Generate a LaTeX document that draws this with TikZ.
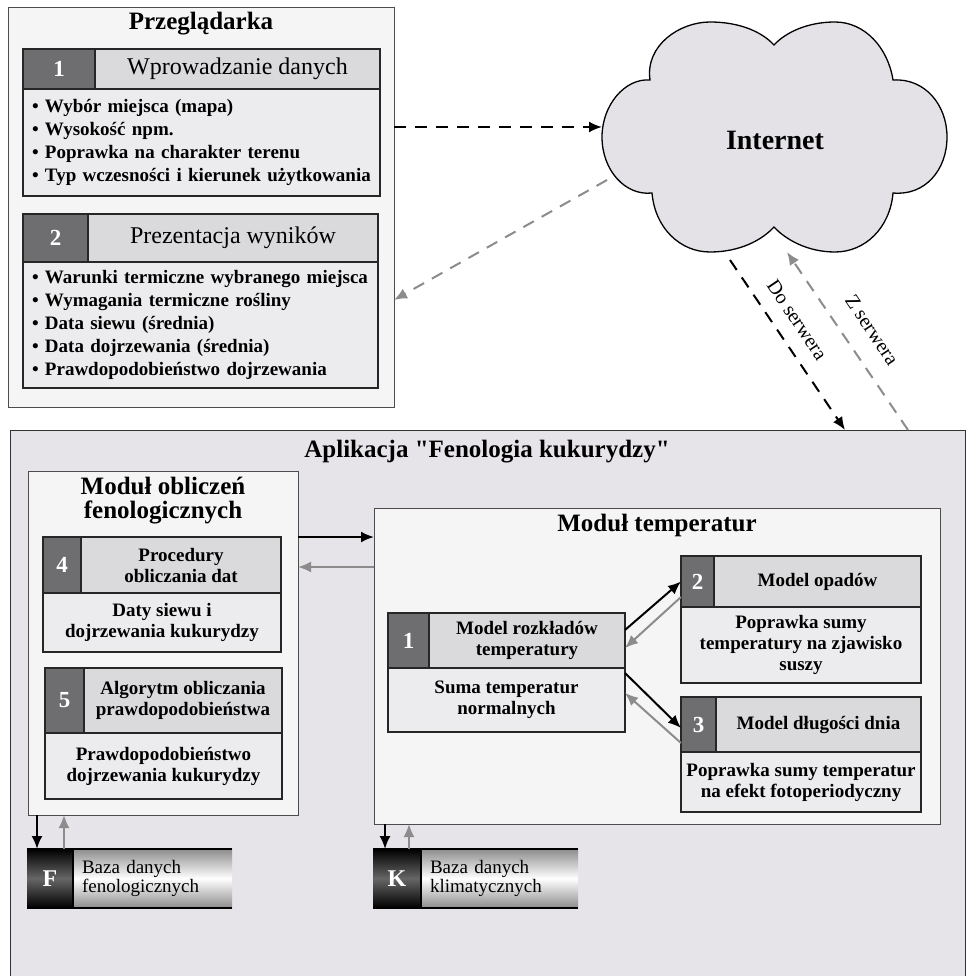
\documentclass[tikz,border=0pt]{standalone}
\usepackage{fontspec}
\setmainfont{Liberation Serif}
\newfontfamily\quotefont{Liberation Serif}[Ligatures=TeXOff]
\usetikzlibrary{arrows.meta}
\definecolor{appbg}{RGB}{230,228,233}
\definecolor{panelbg}{RGB}{245,245,245}
\definecolor{cloudbg}{RGB}{228,226,230}
\definecolor{numgray}{RGB}{110,110,112}
\definecolor{hdrgray}{RGB}{218,218,220}
\definecolor{bodygray}{RGB}{236,236,238}
\definecolor{arrgray}{RGB}{140,140,140}

\begin{document}
\begin{tikzpicture}[x=1pt,y=-1pt]
                        \tikzstyle{panel}=[draw=black!70, fill=panelbg, line width=0.8pt, anchor=north west, inner sep=0pt, outer sep=0pt]
                        \tikzstyle{ttl}=[font=\bfseries\fontsize{25}{25}\selectfont, align=center]
                        \tikzstyle{numc}=[draw=black!85, line width=2pt, fill=numgray, text=white, font=\bfseries\fontsize{23}{23}\selectfont, anchor=north west, inner sep=0pt, outer sep=0pt]
                        \tikzstyle{hdrc}=[draw=black!85, line width=2pt, fill=hdrgray, font=\bfseries\fontsize{19}{21}\selectfont, align=center, anchor=north west, inner sep=0pt, outer sep=0pt]
                        \tikzstyle{bodyc}=[draw=black!85, line width=2pt, fill=bodygray, font=\bfseries\fontsize{19}{21}\selectfont, align=center, anchor=north west, inner sep=0pt, outer sep=0pt]
                        \tikzstyle{listc}=[draw=black!85, line width=2pt, fill=bodygray, font=\bfseries\fontsize{19}{23}\selectfont, align=left, anchor=north west, inner xsep=9pt, inner ysep=0pt, outer sep=0pt]
                        \tikzstyle{dbk}=[anchor=north west, inner sep=0pt, outer sep=0pt, top color=black, bottom color=black, middle color=black!60, text=white, font=\bfseries\fontsize{24}{24}\selectfont]
                        \tikzstyle{dbt}=[anchor=north west, inner xsep=9pt, inner ysep=0pt, outer sep=0pt, top color=black!45, bottom color=black!45, middle color=white, align=left, font=\fontsize{19}{19}\selectfont]
                        \tikzstyle{blk}=[draw=black, line width=2pt, -{Latex[length=13pt,width=11pt]}]
                        \tikzstyle{gry}=[draw=arrgray, line width=2pt, -{Latex[length=13pt,width=11pt]}]
                        \tikzstyle{netdash}=[dash pattern=on 12pt off 9pt]
                        \useasboundingbox (0,0) rectangle (968,976);

                        % przegladarka
                        \node[panel, minimum width=386pt, minimum height=400pt] (prz) at (8,7) {};
                        \node[ttl] (prztl) at (201,24) {Przeglądarka};
                        \node[numc, minimum width=72pt, minimum height=40pt] (pn1) at (23,49) {1};
                        \node[hdrc, font=\fontsize{24}{24}\selectfont, minimum width=285pt, minimum height=40pt] (ph1) at (pn1.north east) {Wprowadzanie danych};
                        \node[listc, text width=339pt, minimum height=107pt] (pb1) at (pn1.south west) {\textbullet\ Wybór miejsca (mapa)\\\textbullet\ Wysokość npm.\\\textbullet\ Poprawka na charakter terenu\\\textbullet\ Typ wczesności i kierunek użytkowania};
                        \node[numc, minimum width=65pt, minimum height=48pt] (pn2) at (23,214) {2};
                        \node[hdrc, font=\fontsize{24}{24}\selectfont, minimum width=290pt, minimum height=48pt] (ph2) at (pn2.north east) {Prezentacja wyników};
                        \node[listc, text width=337pt, minimum height=126pt] (pb2) at (pn2.south west) {\textbullet\ Warunki termiczne wybranego miejsca\\\textbullet\ Wymagania termiczne rośliny\\\textbullet\ Data siewu (średnia)\\\textbullet\ Data dojrzewania (średnia)\\\textbullet\ Prawdopodobieństwo dojrzewania};

                        % internet
                        \draw[line width=1.3pt, fill=cloudbg] (650,80) .. controls (645,45) and (680,22) .. (710,22)
                            .. controls (740,22) and (762,32) .. (774,45) .. controls (786,32) and (808,22) .. (835,22)
                            .. controls (865,22) and (888,48) .. (893,80) .. controls (925,78) and (947,105) .. (947,137)
                            .. controls (947,170) and (925,196) .. (893,193) .. controls (890,228) and (865,252) .. (835,252)
                            .. controls (808,252) and (786,240) .. (774,227) .. controls (762,240) and (740,252) .. (710,252)
                            .. controls (680,252) and (655,228) .. (652,193) .. controls (625,196) and (602,170) .. (602,137)
                            .. controls (602,105) and (625,78) .. cycle;
                        \node[font=\bfseries\fontsize{28}{28}\selectfont] (inet) at (775,140) {Internet};
                        \coordinate (cw) at (602,127);
                        \coordinate (cgr) at (607,180);
                        \coordinate (cds) at (730,260);
                        \coordinate (czs) at (787,252);

                        % aplikacja
                        \node[panel, fill=appbg, draw=black!80, minimum width=955pt, minimum height=546pt] (app) at (10,430) {};
                        \node[ttl] (apptl) at (487,452) {Aplikacja {\quotefont"}Fenologia kukurydzy{\quotefont"}};

                        \node[panel, minimum width=270pt, minimum height=344pt] (mob) at (28,471) {};
                        \node[ttl, font=\bfseries\fontsize{25}{24}\selectfont] (mobtl) at (163,501) {Moduł obliczeń\\fenologicznych};
                        \node[numc, minimum width=38pt, minimum height=56pt] (bn4) at (43,537) {4};
                        \node[hdrc, minimum width=200pt, minimum height=56pt] (bh4) at (bn4.north east) {Procedury\\obliczania dat};
                        \node[bodyc, minimum width=238pt, minimum height=59pt] (bb4) at (bn4.south west) {Daty siewu i\\dojrzewania kukurydzy};
                        \node[numc, minimum width=39pt, minimum height=65pt] (bn5) at (45,668) {5};
                        \node[hdrc, minimum width=198pt, minimum height=65pt] (bh5) at (bn5.north east) {Algorytm obliczania\\prawdopodobieństwa};
                        \node[bodyc, minimum width=237pt, minimum height=66pt] (bb5) at (bn5.south west) {Prawdopodobieństwo\\dojrzewania kukurydzy};

                        \node[panel, minimum width=566pt, minimum height=316pt] (mtp) at (374,508) {};
                        \node[ttl] (mtptl) at (657,525) {Moduł temperatur};
                        \node[numc, minimum width=41pt, minimum height=55pt] (tn1) at (388,613) {1};
                        \node[hdrc, minimum width=196pt, minimum height=55pt] (th1) at (tn1.north east) {Model rozkładów\\temperatury};
                        \node[bodyc, minimum width=237pt, minimum height=64pt] (tb1) at (tn1.south west) {Suma temperatur\\normalnych};
                        \node[numc, minimum width=33pt, minimum height=51pt] (tn2) at (681,556) {2};
                        \node[hdrc, minimum width=207pt, minimum height=51pt] (th2) at (tn2.north east) {Model opadów};
                        \node[bodyc, minimum width=240pt, minimum height=76pt] (tb2) at (tn2.south west) {Poprawka sumy\\temperatury na zjawisko\\suszy};
                        \node[numc, minimum width=35pt, minimum height=55pt] (tn3) at (681,697) {3};
                        \node[hdrc, minimum width=205pt, minimum height=55pt] (th3) at (tn3.north east) {Model długości dnia};
                        \node[bodyc, minimum width=240pt, minimum height=60pt] (tb3) at (tn3.south west) {Poprawka sumy temperatur\\na efekt fotoperiodyczny};

                        % bazy danych
                        \node[dbk, minimum width=46pt, minimum height=59pt] (fk) at (27,849) {F};
                        \node[dbt, text width=141pt, minimum height=59pt] (ft) at (fk.north east) {Baza danych\\fenologicznych};
                        \node[dbk, minimum width=48pt, minimum height=59pt] (kk) at (373,849) {K};
                        \node[dbt, text width=139pt, minimum height=59pt] (kt) at (kk.north east) {Baza danych\\klimatycznych};
                        \draw[line width=2pt] (fk.north west) -- (ft.north east) (fk.south west) -- (ft.south east);
                        \draw[line width=1.5pt] (fk.north east) -- (fk.south east);
                        \draw[line width=2pt] (kk.north west) -- (kt.north east) (kk.south west) -- (kt.south east);
                        \draw[line width=1.5pt] (kk.north east) -- (kk.south east);

                        % polaczenia
                        \draw[blk, netdash] ([yshift=80pt]prz.east) -- (cw);
                        \draw[gry, netdash] (cgr) -- ([yshift=-93pt]prz.east);
                        \draw[blk, netdash] (cds) -- ([xshift=357.5pt]app.north);
                        \draw[gry, netdash] ([xshift=420.5pt]app.north) -- (czs);
                        \node[font=\fontsize{20}{20}\selectfont, rotate=-56] (dolbl) at (797,320) {Do serwera};
                        \node[font=\fontsize{20}{20}\selectfont, rotate=-56] (zlbl) at (872,330) {Z serwera};

                        \draw[blk] ([yshift=106pt]mob.east) -- ([yshift=129pt]mtp.west);
                        \draw[gry] ([yshift=99pt]mtp.west) -- ([yshift=76pt]mob.east);
                        \draw[blk] ([yshift=10.5pt]th1.east) -- (tn2.west);
                        \draw[gry] ([yshift=-15.5pt]tn2.west) -- ([yshift=-7.5pt]th1.east);
                        \draw[blk] ([yshift=27pt]tb1.east) -- ([yshift=-3.5pt]tn3.west);
                        \draw[gry] ([yshift=-18.5pt]tn3.west) -- ([yshift=7pt]tb1.east);
                        \draw[blk] ([xshift=-126pt]mob.south) -- ([xshift=-13pt]fk.north);
                        \draw[gry] ([xshift=14pt]fk.north) -- ([xshift=-99pt]mob.south);
                        \draw[blk] ([xshift=-272pt]mtp.south) -- ([xshift=-12pt]kk.north);
                        \draw[gry] ([xshift=12pt]kk.north) -- ([xshift=-248pt]mtp.south);
                    \end{tikzpicture}
\end{document}
